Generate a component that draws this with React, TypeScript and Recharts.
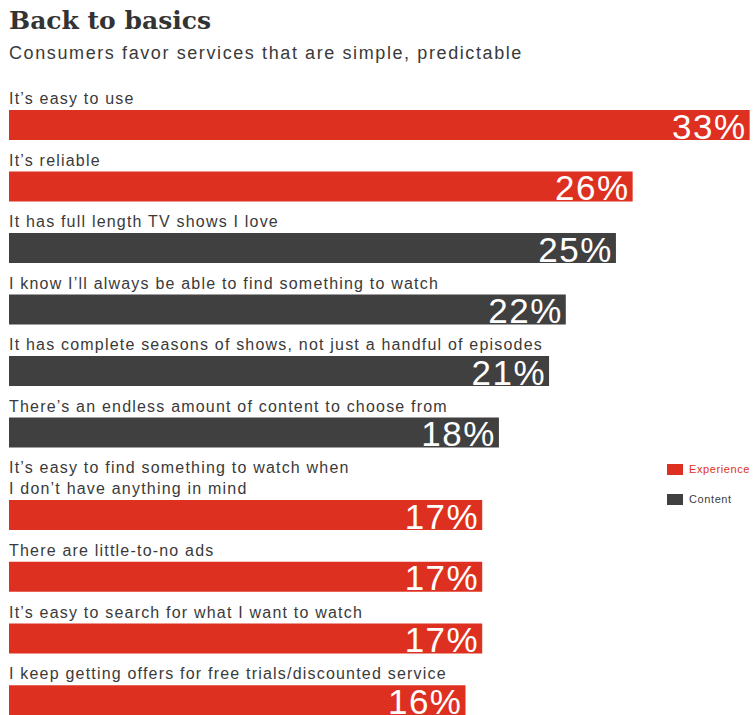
import { BarChart, Bar, XAxis, YAxis, Cell, LabelList } from 'recharts';

const LABELS = [
  'It\u2019s easy to use',
  'It\u2019s reliable',
  'It has full length TV shows I love',
  'I know I\u2019ll always be able to find something to watch',
  'It has complete seasons of shows, not just a handful of episodes',
  'There\u2019s an endless amount of content to choose from',
  'It\u2019s easy to find something to watch when\nI don\u2019t have anything in mind',
  'There are little-to-no ads',
  'It\u2019s easy to search for what I want to watch',
  'I keep getting offers for free trials/discounted service',
];
const VALUES = [33, 26, 25, 22, 21, 18, 17, 17, 17, 16];
const GROUPS = [
  'Experience', 'Experience', 'Content', 'Content', 'Content',
  'Content', 'Experience', 'Experience', 'Experience', 'Experience',
];
const LEGEND = ['Experience', 'Content'];

const COLORS: Record<string, string> = {
  Experience: '#DE3020',
  Content: '#404040',
};

// the original axis does not start at zero
const AXIS_START = -11.31;
const AXIS_END = 33.2;

const SANS = '"Liberation Sans", Arial, sans-serif';

const rows = LABELS.map((label, i) => ({ label, value: VALUES[i], group: GROUPS[i] }));

const CategoryLabel = (props: any) => {
  const { x, y, value } = props;
  const lines = String(value).split('\n');
  return (
    <text x={x} y={y - 6} fill="#3a3a3a" fontSize={16} fontFamily={SANS} letterSpacing={1.2}>
      {lines.map((l, i) => (
        <tspan key={i} x={x} dy={i === 0 ? -(lines.length - 1) * 21 : 21}>
          {l}
        </tspan>
      ))}
    </text>
  );
};

const ValueLabel = (props: any) => {
  const { x, y, width, height, value } = props;
  return (
    <text
      x={x + width - 3}
      y={y + height / 2 + 1}
      fill="#fff"
      fontSize={35}
      fontFamily={SANS}
      letterSpacing={1.5}
      textAnchor="end"
      dominantBaseline="central"
    >
      {`${value}%`}
    </text>
  );
};

const Rows = ({ data, height, top }: { data: typeof rows; height: number; top: number }) => (
  <BarChart
    width={753}
    height={height}
    data={data}
    layout="vertical"
    margin={{ top, right: 0, bottom: 0, left: 9 }}
    barSize={30}
  >
    <XAxis type="number" hide domain={[AXIS_START, AXIS_END]} allowDataOverflow />
    <YAxis type="category" dataKey="label" hide />
    <Bar dataKey={(d: any) => [AXIS_START, d.value]} isAnimationActive={false}>
      {data.map((d) => (
        <Cell key={d.label} fill={COLORS[d.group]} />
      ))}
      <LabelList dataKey="label" content={CategoryLabel} />
      <LabelList dataKey="value" content={ValueLabel} />
    </Bar>
  </BarChart>
);

const App = () => (
  <div
    style={{
      position: 'absolute',
      left: 0,
      top: 0,
      width: 753,
      height: 715,
      overflow: 'hidden',
      background: '#fff',
    }}
  >
    <div
      style={{
        position: 'absolute',
        left: 9,
        top: 6,
        fontFamily: '"DejaVu Serif", serif',
        fontWeight: 'bold',
        fontSize: 25,
        color: '#333',
      }}
    >
      Back to basics
    </div>
    <div
      style={{
        position: 'absolute',
        left: 9,
        top: 43,
        fontFamily: SANS,
        fontSize: 18,
        letterSpacing: 1.6,
        color: '#3a3a3a',
        whiteSpace: 'nowrap',
      }}
    >
      Consumers favor services that are simple, predictable
    </div>
    <div style={{ position: 'absolute', left: 0, top: 64 }}>
      <Rows data={rows.slice(0, 6)} height={399} top={30} />
    </div>
    <div style={{ position: 'absolute', left: 0, top: 444 }}>
      <Rows data={rows.slice(6)} height={287} top={40} />
    </div>
    <div style={{ position: 'absolute', left: 667, top: 454 }}>
      {LEGEND.map((g) => (
        <div key={g} style={{ display: 'flex', alignItems: 'center', height: 30 }}>
          <span style={{ width: 16, height: 11, background: COLORS[g], display: 'inline-block' }} />
          <span
            style={{
              marginLeft: 6,
              fontFamily: SANS,
              fontSize: 11,
              letterSpacing: 0.6,
              color: COLORS[g],
              whiteSpace: 'nowrap',
            }}
          >
            {g}
          </span>
        </div>
      ))}
    </div>
  </div>
);

export default App;
